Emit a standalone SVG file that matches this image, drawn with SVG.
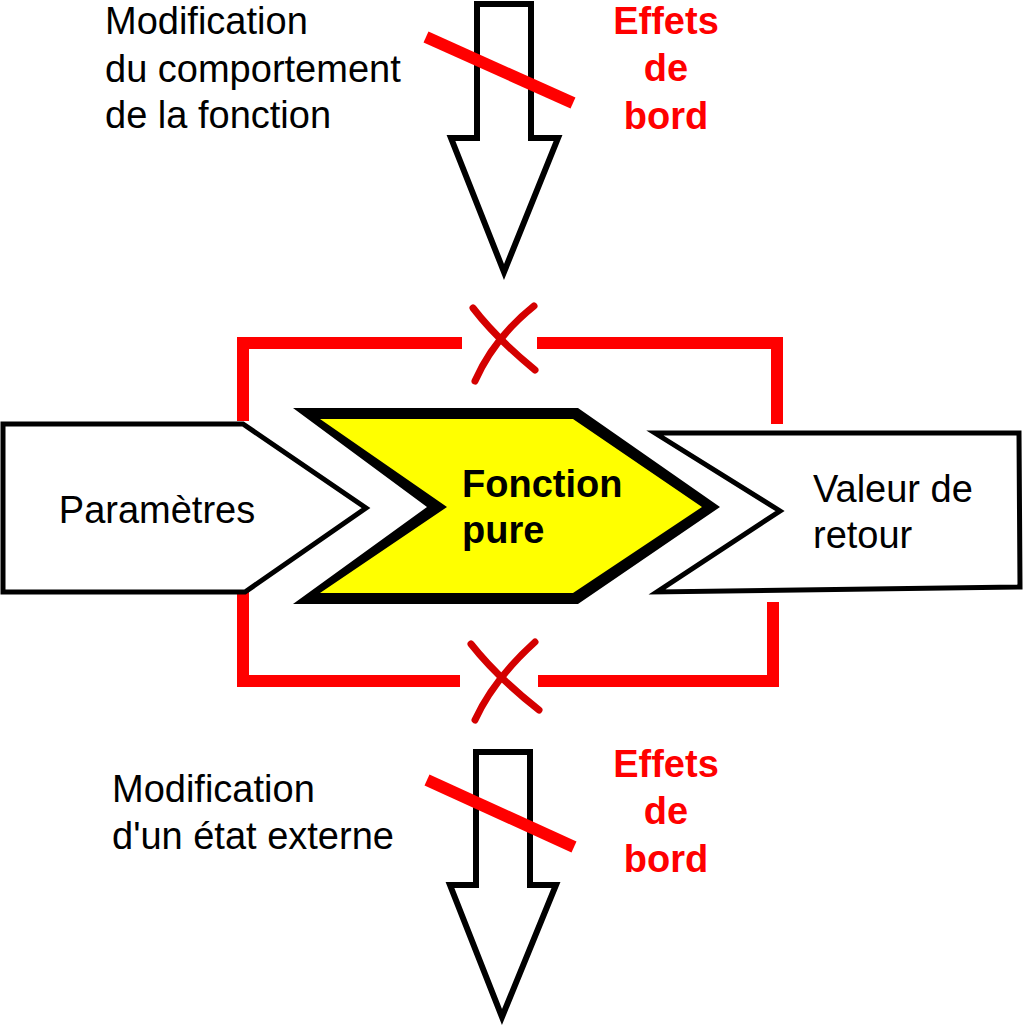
<svg xmlns="http://www.w3.org/2000/svg" width="1024" height="1028" viewBox="0 0 1024 1028">
  <style>
    .t { font-family: "Liberation Sans", Arial, sans-serif; font-size: 38px; fill: #000; }
    .b { font-family: "Liberation Sans", Arial, sans-serif; font-size: 38px; font-weight: bold; }
    .red { fill: #ff0000; text-anchor: middle; }
    .box { fill: #fff; stroke: #000; stroke-width: 5; stroke-linejoin: miter; }
    .arrow { fill: #fff; stroke: #000; stroke-width: 6; stroke-linejoin: miter; stroke-miterlimit: 10; }
    .slash { stroke: #ff0000; stroke-width: 12; fill: none; }
    .bracket { stroke: #ff0000; stroke-width: 12; fill: none; stroke-linejoin: miter; }
    .x { stroke: #d40000; stroke-width: 7; fill: none; stroke-linecap: round; }
  </style>
  <rect width="1024" height="1028" fill="#fff"/>

  <g id="connectors">
    <polyline class="bracket" points="243,421 243,343 462,343"/>
    <polyline class="bracket" points="537,343 777,343 777,424"/>
    <polyline class="bracket" points="243,592 243,681 460,681"/>
    <polyline class="bracket" points="538,681 773,681 773,602"/>
    <path class="x" d="M473,308 Q496,338 535,370"/>
    <path class="x" d="M534,306 Q494,338 475,381"/>
    <path class="x" d="M471,644 Q497,677 539,710"/>
    <path class="x" d="M535,642 Q494,679 475,720"/>
  </g>

  <g id="top-arrow">
    <polygon class="arrow" points="477,4 531,4 531,138 558,138 504,272 451,138 477,138"/>
    <line class="slash" x1="426" y1="37" x2="573" y2="103"/>
  </g>

  <g id="top-label">
    <text class="t" x="105" y="34">Modification</text>
    <text class="t" x="105" y="82">du comportement</text>
    <text class="t" x="105" y="128">de la fonction</text>
  </g>

  <g id="top-effets">
    <text class="b red" x="666" y="34">Effets</text>
    <text class="b red" x="666" y="81">de</text>
    <text class="b red" x="666" y="129">bord</text>
  </g>

  <g id="parametres">
    <polygon class="box" points="3,424 243,424 366,508 245,592 3,592"/>
    <text class="t" x="157" y="523" text-anchor="middle">Paramètres</text>
  </g>

  <g id="fonction-pure">
    <polygon fill="#000" points="293,408 578,408 720,507 578,604 293,604 427,507"/>
    <polygon fill="#ffff00" points="320,419 573,419 702,507 573,593 320,593 447,507"/>
    <text class="b" x="462" y="497" fill="#000">Fonction</text>
    <text class="b" x="462" y="543" fill="#000">pure</text>
  </g>

  <g id="valeur-retour">
    <polygon class="box" points="655,433 1019,433 1020,587 657,592 780,511"/>
    <text class="t" x="813" y="502">Valeur de</text>
    <text class="t" x="813" y="548">retour</text>
  </g>

  <g id="bottom-arrow">
    <polygon class="arrow" points="476,752 530,752 530,885 556,885 502,1017 450,885 476,885"/>
    <line class="slash" x1="427" y1="780" x2="574" y2="847"/>
  </g>

  <g id="bottom-label">
    <text class="t" x="112" y="802">Modification</text>
    <text class="t" x="112" y="849">d'un état externe</text>
  </g>

  <g id="bottom-effets">
    <text class="b red" x="666" y="777">Effets</text>
    <text class="b red" x="666" y="824">de</text>
    <text class="b red" x="666" y="872">bord</text>
  </g>
</svg>
